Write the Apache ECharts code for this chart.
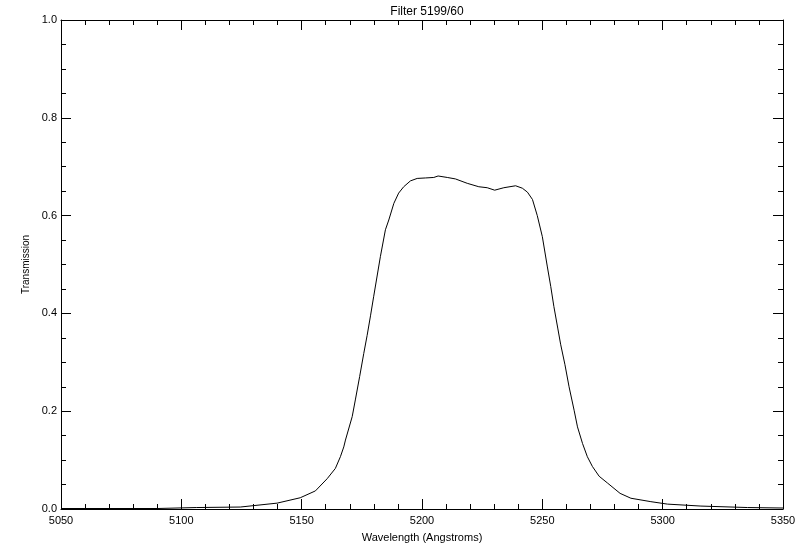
<!DOCTYPE html>
<html>
<head>
<meta charset="utf-8">
<script src="https://cdn.jsdelivr.net/npm/echarts@6/dist/echarts.min.js"></script>
<style>
html,body{margin:0;padding:0;background:#fff;}
#chart{width:800px;height:550px;}
</style>
</head>
<body>
<div id="chart"></div>
<script>
var titleText = "Filter 5199/60";
var xAxisName = "Wavelength (Angstroms)";
var yAxisName = "Transmission";

var wavelength = [5050, 5070, 5090, 5106.2, 5124.5, 5139.8, 5149.4, 5155.7, 5160.6, 5164.0, 5166.1, 5167.5, 5168.2,
  5171.0, 5172.3, 5174.1, 5175.8, 5177.2, 5178.6, 5179.9, 5182.7, 5184.8, 5186.2, 5188.3, 5190.3, 5192.4,
  5195.2, 5198.0, 5201.5, 5204.9, 5206.7, 5210.5, 5213.9, 5218.8, 5223.6, 5227.1, 5230.2, 5234.0, 5238.9,
  5241.7, 5243.8, 5245.9, 5247.9, 5250.0, 5252.1, 5253.5, 5254.8, 5256.4, 5257.6, 5259.4, 5261.1, 5263.2,
  5264.6, 5266.7, 5268.7, 5270.8, 5273.6, 5277.1, 5282.3, 5286.8, 5295.1, 5302.0, 5315.9, 5335.3, 5350];
var transmission = [0.001, 0.001, 0.001, 0.003, 0.004, 0.012, 0.023, 0.037, 0.062, 0.083, 0.107, 0.127, 0.141,
  0.189, 0.223, 0.271, 0.318, 0.355, 0.395, 0.434, 0.516, 0.571, 0.591, 0.625, 0.646, 0.659,
  0.671, 0.676, 0.677, 0.678, 0.681, 0.678, 0.675, 0.666, 0.659, 0.657, 0.652, 0.657, 0.661,
  0.656, 0.648, 0.633, 0.600, 0.557, 0.495, 0.455, 0.414, 0.370, 0.337, 0.295, 0.250, 0.202,
  0.168, 0.134, 0.107, 0.087, 0.067, 0.053, 0.032, 0.022, 0.015, 0.010, 0.006, 0.003, 0.002];

var xMin = 5050, xMax = 5350, xStep = 50;
var yMin = 0, yMax = 1, yStep = 0.2;

var pts = wavelength.map(function (w, i) { return [w, transmission[i]]; });

var font = "Liberation Sans";
var lineStyle = { color: "#000", width: 1 };

function xAx(pos, showLabel) {
  return {
    type: "value", position: pos, min: xMin, max: xMax, interval: xStep,
    name: showLabel ? xAxisName : "", nameLocation: "middle", nameGap: 23,
    nameTextStyle: { color: "#000", fontFamily: font, fontSize: 11 },
    axisLine: { show: true, onZero: false, lineStyle: lineStyle },
    axisTick: { show: true, inside: true, length: 10, lineStyle: lineStyle },
    minorTick: { show: true, splitNumber: 5, length: 5, lineStyle: lineStyle },
    axisLabel: { show: showLabel, color: "#000", fontFamily: font, fontSize: 11, margin: 6,
      formatter: function (v) { return String(v); } },
    splitLine: { show: false }
  };
}
function yAx(pos, showLabel) {
  return {
    type: "value", position: pos, min: yMin, max: yMax, interval: yStep,
    name: showLabel ? yAxisName : "", nameLocation: "middle", nameGap: 27, nameRotate: 90,
    nameTextStyle: { color: "#000", fontFamily: font, fontSize: 10 },
    axisLine: { show: true, onZero: false, lineStyle: lineStyle },
    axisTick: { show: true, inside: true, length: 10, lineStyle: lineStyle },
    minorTick: { show: true, splitNumber: 4, length: 5, lineStyle: lineStyle },
    axisLabel: { show: showLabel, color: "#000", fontFamily: font, fontSize: 11, margin: 4,
      formatter: function (v) { return v.toFixed(1); } },
    splitLine: { show: false }
  };
}

var chart = echarts.init(document.getElementById("chart"), null, { renderer: "canvas" });
chart.setOption({
  backgroundColor: "#fff",
  animation: false,
  title: { text: titleText, left: 422, top: 1, textAlign: "center",
    textStyle: { color: "#000", fontFamily: font, fontSize: 12, fontWeight: "normal" } },
  grid: { left: 61, right: 17, top: 20, bottom: 41, containLabel: false },
  xAxis: [xAx("bottom", true), xAx("top", false)],
  yAxis: [yAx("left", true), yAx("right", false)],
  series: [{
    type: "line", xAxisIndex: 0, yAxisIndex: 0, data: pts,
    showSymbol: false, symbol: "none", smooth: false,
    lineStyle: { color: "#000", width: 1 }
  }]
});
</script>
</body>
</html>
